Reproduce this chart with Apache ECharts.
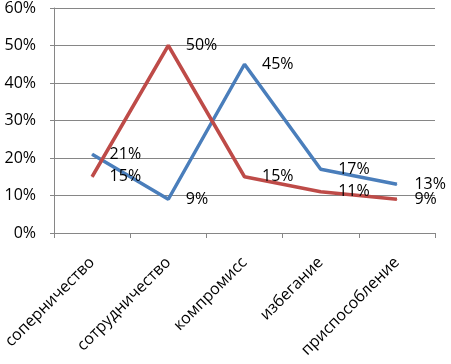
<!DOCTYPE html>
<html>
<head>
<meta charset="utf-8">
<script src="https://cdn.jsdelivr.net/npm/echarts@6/dist/echarts.min.js"></script>
<style>
html, body { margin: 0; padding: 0; background: #fff; }
#chart { width: 451px; height: 364px; }
</style>
</head>
<body>
<div id="chart"></div>
<script>
var categories = ['соперничество', 'сотрудничество', 'компромисс', 'избегание', 'приспособление'];
var blueValues = [21, 9, 45, 17, 13];
var redValues = [15, 50, 15, 11, 9];
var yTicks = { min: 0, max: 60, interval: 10 };

var font = 'Open Sans, Liberation Sans, sans-serif';

// labels on a line only show with a symbol, so use a tiny invisible one
function pointLabel() {
    return {
        show: true,
        position: 'right',
        distance: 17,
        formatter: '{c}%',
        color: '#000',
        fontSize: 16,
        fontFamily: font
    };
}

var chart = echarts.init(document.getElementById('chart'));
var option = {
    animation: false,
    backgroundColor: '#fff',
    grid: {
        left: 54,
        right: 16,
        top: 7,
        bottom: 131
    },
    xAxis: {
        type: 'category',
        boundaryGap: true,
        data: categories,
        axisLine: { lineStyle: { color: '#868686', width: 1 } },
        axisTick: { show: true, length: 5, lineStyle: { color: '#868686' } },
        axisLabel: {
            rotate: 45,
            interval: 0,
            color: '#000',
            fontSize: 16,
            fontFamily: font,
            margin: 27
        }
    },
    yAxis: {
        type: 'value',
        min: yTicks.min,
        max: yTicks.max,
        interval: yTicks.interval,
        axisLine: { show: true, lineStyle: { color: '#868686', width: 1 } },
        axisTick: { show: true, length: 4, lineStyle: { color: '#868686' } },
        splitLine: { show: true, lineStyle: { color: '#868686', width: 1 } },
        axisLabel: {
            formatter: '{value}%',
            color: '#000',
            fontSize: 16,
            fontFamily: font,
            margin: 18
        }
    },
    series: [
        {
            name: 'blue',
            type: 'line',
            data: blueValues,
            symbol: 'circle',
            symbolSize: 1,
            showSymbol: true,
            lineStyle: { color: '#4a7ebb', width: 3.5 },
            itemStyle: { color: '#4a7ebb' },
            label: pointLabel()
        },
        {
            name: 'red',
            type: 'line',
            data: redValues,
            symbol: 'circle',
            symbolSize: 1,
            showSymbol: true,
            lineStyle: { color: '#be4b48', width: 3.5 },
            itemStyle: { color: '#be4b48' },
            label: pointLabel()
        }
    ]
};
chart.setOption(option);
</script>
</body>
</html>
